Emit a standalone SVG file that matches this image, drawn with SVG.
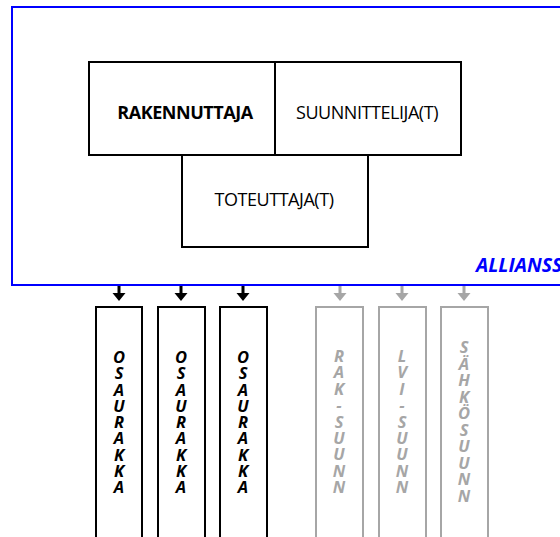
<svg xmlns="http://www.w3.org/2000/svg" width="560" height="537" viewBox="0 0 560 537">
  <style>
    .box { fill: #fff; stroke: #000; stroke-width: 2; }
    .gbox { fill: #fff; stroke: #a6a6a6; stroke-width: 2; }
    .main { font-family: "Open Sans", "Liberation Sans", sans-serif; font-size: 18px; fill: #000; text-anchor: middle; letter-spacing: -0.45px; }
    .vert { font-family: "Open Sans", "Liberation Sans", sans-serif; font-size: 16.5px; font-weight: bold; font-style: italic; text-anchor: middle; }
    .blk { fill: #000; }
    .gry { fill: #a6a6a6; }
  </style>
  <defs>
    <path id="arrow" d="M-1.5,0 H1.5 V7 H6.5 L0,15 L-6.5,7 H-1.5 Z"/>
  </defs>

  <rect id="alliance" x="12" y="7" width="600" height="278" fill="none" stroke="#0000ff" stroke-width="2"/>
  <text x="476" y="272" font-family="Open Sans, Liberation Sans, sans-serif" font-size="19.5" font-weight="bold" font-style="italic" fill="#0000ff">ALLIANSSI</text>

  <g id="rakennuttaja">
    <rect class="box" x="89" y="62" width="186" height="93"/>
    <text class="main" x="185" y="119" font-weight="bold">RAKENNUTTAJA</text>
  </g>
  <g id="suunnittelija">
    <rect class="box" x="275" y="62" width="186" height="93"/>
    <text class="main" x="367" y="119">SUUNNITTELIJA(T)</text>
  </g>
  <g id="toteuttaja">
    <rect class="box" x="182" y="155" width="186" height="92"/>
    <text class="main" x="274" y="206">TOTEUTTAJA(T)</text>
  </g>

  <g id="connectors">
    <use href="#arrow" x="119" y="286" class="blk"/>
    <use href="#arrow" x="181" y="286" class="blk"/>
    <use href="#arrow" x="243" y="286" class="blk"/>
    <use href="#arrow" x="340" y="286" class="gry"/>
    <use href="#arrow" x="402" y="286" class="gry"/>
    <use href="#arrow" x="464" y="286" class="gry"/>
  </g>

  <g id="osaurakka-1">
    <rect class="box" x="96" y="307" width="46" height="240"/>
    <text class="vert blk" x="119" y="363"><tspan x="119">O</tspan><tspan x="119" dy="16.25">S</tspan><tspan x="119" dy="16.25">A</tspan><tspan x="119" dy="16.25">U</tspan><tspan x="119" dy="16.25">R</tspan><tspan x="119" dy="16.25">A</tspan><tspan x="119" dy="16.25">K</tspan><tspan x="119" dy="16.25">K</tspan><tspan x="119" dy="16.25">A</tspan></text>
  </g>
  <g id="osaurakka-2">
    <rect class="box" x="158" y="307" width="47" height="240"/>
    <text class="vert blk" x="181" y="363"><tspan x="181">O</tspan><tspan x="181" dy="16.25">S</tspan><tspan x="181" dy="16.25">A</tspan><tspan x="181" dy="16.25">U</tspan><tspan x="181" dy="16.25">R</tspan><tspan x="181" dy="16.25">A</tspan><tspan x="181" dy="16.25">K</tspan><tspan x="181" dy="16.25">K</tspan><tspan x="181" dy="16.25">A</tspan></text>
  </g>
  <g id="osaurakka-3">
    <rect class="box" x="220" y="307" width="47" height="240"/>
    <text class="vert blk" x="243" y="363"><tspan x="243">O</tspan><tspan x="243" dy="16.25">S</tspan><tspan x="243" dy="16.25">A</tspan><tspan x="243" dy="16.25">U</tspan><tspan x="243" dy="16.25">R</tspan><tspan x="243" dy="16.25">A</tspan><tspan x="243" dy="16.25">K</tspan><tspan x="243" dy="16.25">K</tspan><tspan x="243" dy="16.25">A</tspan></text>
  </g>

  <g id="rak-suunn">
    <rect class="gbox" x="316" y="307" width="47" height="240"/>
    <text class="vert gry" x="339" y="362"><tspan x="339">R</tspan><tspan x="339" dy="16.4">A</tspan><tspan x="339" dy="16.4">K</tspan><tspan x="339" dy="16.4">-</tspan><tspan x="339" dy="16.4">S</tspan><tspan x="339" dy="16.4">U</tspan><tspan x="339" dy="16.4">U</tspan><tspan x="339" dy="16.4">N</tspan><tspan x="339" dy="16.4">N</tspan></text>
  </g>
  <g id="lvi-suunn">
    <rect class="gbox" x="379" y="307" width="47" height="240"/>
    <text class="vert gry" x="402" y="362"><tspan x="402">L</tspan><tspan x="402" dy="16.4">V</tspan><tspan x="402" dy="16.4">I</tspan><tspan x="402" dy="16.4">-</tspan><tspan x="402" dy="16.4">S</tspan><tspan x="402" dy="16.4">U</tspan><tspan x="402" dy="16.4">U</tspan><tspan x="402" dy="16.4">N</tspan><tspan x="402" dy="16.4">N</tspan></text>
  </g>
  <g id="sahkosuunn">
    <rect class="gbox" x="441" y="307" width="47" height="240"/>
    <text class="vert gry" x="464" y="353"><tspan x="464">S</tspan><tspan x="464" dy="16.5">Ä</tspan><tspan x="464" dy="16.5">H</tspan><tspan x="464" dy="16.5">K</tspan><tspan x="464" dy="16.5">Ö</tspan><tspan x="464" dy="16.5">S</tspan><tspan x="464" dy="16.5">U</tspan><tspan x="464" dy="16.5">U</tspan><tspan x="464" dy="16.5">N</tspan><tspan x="464" dy="16.5">N</tspan></text>
  </g>
</svg>
